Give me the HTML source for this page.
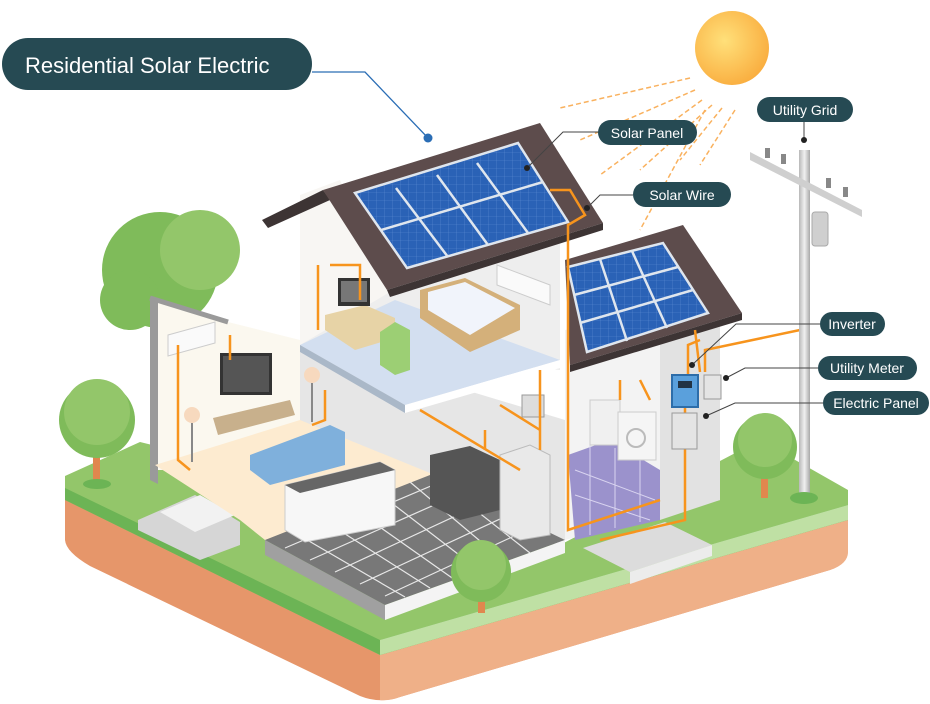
<!DOCTYPE html>
<html><head><meta charset="utf-8"><style>
html,body{margin:0;padding:0;background:#fff;width:930px;height:704px;overflow:hidden}
svg{display:block}
text{font-family:"Liberation Sans",sans-serif}
</style></head><body>
<svg width="930" height="704" viewBox="0 0 930 704" xmlns="http://www.w3.org/2000/svg">
<defs>
<radialGradient id="sun" cx="0.4" cy="0.4" r="0.7"><stop offset="0" stop-color="#ffe07a"/><stop offset="1" stop-color="#f9a93a"/></radialGradient>
<linearGradient id="pole" x1="0" x2="1"><stop offset="0" stop-color="#b8b8b8"/><stop offset="0.5" stop-color="#f0f0f0"/><stop offset="1" stop-color="#a8a8a8"/></linearGradient>
<pattern id="cells" width="8" height="8" patternUnits="userSpaceOnUse"><rect width="8" height="8" fill="#2a62b6"/><path d="M0 0H8M0 0V8" stroke="#5b8bd2" stroke-width="0.6"/></pattern>
</defs>

<!-- Island -->
<path d="M65 495 L65 540 Q66 552 90 566 L360 696 Q380 704 400 697 L830 570 Q848 564 848 550 L848 515 L380 655 Z" fill="#e6966a"/>
<path d="M380 655 L848 515 L848 552 Q848 564 830 570 L400 697 Q390 701 380 700 Z" fill="#efb088"/>
<path d="M65 476 L140 442 L560 545 L760 440 L848 490 L848 520 L380 655 L65 500 Z" fill="#93c66a"/>
<path d="M65 488 L380 640 L848 505 L848 520 L380 655 L65 500 Z" fill="#6cb455"/>
<path d="M380 640 L848 505 L848 520 L380 655 Z" fill="#bfe0a4"/>
<path d="M583 548 L665 522 L712 545 L630 572 Z" fill="#dcdcdc"/>
<path d="M630 572 L712 545 L712 556 L630 584 Z" fill="#ececec"/>

<!-- Big back tree -->
<circle cx="160" cy="270" r="58" fill="#7fbb5a"/><circle cx="200" cy="250" r="40" fill="#93c66a"/>
<circle cx="130" cy="300" r="30" fill="#7fbb5a"/>

<!-- Left small tree -->
<rect x="93" y="440" width="7" height="45" fill="#e0874e"/>
<ellipse cx="97" cy="484" rx="14" ry="5" fill="#6cb455"/>
<circle cx="97" cy="420" r="38" fill="#7fbb5a"/><circle cx="97" cy="412" r="33" fill="#93c66a"/>

<!-- Stairs -->
<path d="M138 520 L195 495 L240 522 L240 545 L200 560 L138 530 Z" fill="#d6d6d6"/>
<path d="M160 512 L200 495 L235 515 L195 532 Z" fill="#f2f2f2"/>

<!-- Ground floor structure -->
<path d="M150 298 L228 322 L300 340 L300 470 L150 470 Z" fill="#fbf8ef"/>
<path d="M150 298 L150 480 L158 484 L158 302 Z" fill="#9a9a9a"/>
<path d="M150 298 L228 322" stroke="#9a9a9a" stroke-width="5"/>
<path d="M300 340 L565 420 L565 540 L300 470 Z" fill="#e6e6e6"/>
<path d="M155 465 L300 420 L545 520 L380 560 L265 540 L240 520 Z" fill="#fdebd0"/>
<path d="M265 540 L430 475 L565 540 L385 605 Z" fill="#787878"/>
<g stroke="#e8e8e8" stroke-width="1.2">
<path d="M290 530 L405 597 M320 518 L430 588 M350 506 L455 580 M380 494 L480 571 M410 482 L505 562 M435 478 L530 553"/>
<path d="M285 548 L445 480 M310 560 L468 490 M335 572 L490 500 M360 584 L515 512 M385 596 L540 524"/>
</g>
<path d="M265 540 L385 605 L385 620 L265 555 Z" fill="#a0a0a0"/>
<path d="M385 605 L565 540 L565 553 L385 620 Z" fill="#f4f4f4"/>

<!-- Right wing -->
<path d="M565 330 L720 290 L720 500 L565 540 Z" fill="#f3f3f3"/>
<path d="M660 320 L720 300 L720 500 L660 520 Z" fill="#e2e2e2"/>
<path d="M568 455 L610 440 L660 470 L660 520 L575 540 Z" fill="#9b92cc"/>
<g stroke="#d9d4f0" stroke-width="1"><path d="M575 470 L655 500 M575 495 L650 520 M590 445 L590 535 M615 448 L615 528 M640 460 L640 522"/></g>
<rect x="590" y="400" width="30" height="45" fill="#f0f0f0" stroke="#ccc"/>
<rect x="618" y="412" width="38" height="48" fill="#f5f5f5" stroke="#ccc"/>
<circle cx="636" cy="438" r="9" fill="none" stroke="#bbb" stroke-width="2"/>

<!-- Upper floor -->
<path d="M300 200 L335 190 L540 130 L560 200 L560 370 L300 345 Z" fill="#eeeeee"/>
<path d="M300 195 L340 180 L390 292 L300 345 Z" fill="#f8f6f3"/>
<path d="M300 345 L395 300 L560 360 L405 405 Z" fill="#d3dff0"/>
<path d="M300 345 L405 405 L405 413 L300 352 Z" fill="#aab8c8"/>
<path d="M405 405 L560 360 L560 368 L405 413 Z" fill="#ffffff"/>
<!-- bed -->
<path d="M420 290 L465 278 L520 305 L520 330 L470 352 L420 318 Z" fill="#d4b07a"/>
<path d="M428 292 L465 282 L515 308 L470 335 L428 310 Z" fill="#f1f4fb"/>
<!-- desk & monitor -->
<path d="M325 315 L365 305 L395 318 L395 338 L355 350 L325 330 Z" fill="#e7d3a6"/>
<rect x="338" y="278" width="32" height="28" fill="#333"/><rect x="341" y="281" width="26" height="21" fill="#777"/>
<path d="M380 332 L395 322 L410 330 L410 370 L395 375 L380 365 Z" fill="#9ccf74"/>
<!-- AC -->
<path d="M497 265 L550 285 L550 305 L497 285 Z" fill="#fafafa" stroke="#ccc"/>
<path d="M168 335 L215 322 L215 343 L168 356 Z" fill="#fafafa" stroke="#ccc"/>

<!-- living room furniture -->
<rect x="220" y="353" width="52" height="42" fill="#333"/><rect x="223" y="356" width="46" height="36" fill="#555"/>
<path d="M213 418 L290 400 L295 415 L218 435 Z" fill="#c8b08c"/>
<path d="M250 455 L330 425 L345 432 L345 465 L270 485 L250 470 Z" fill="#7fb0dc"/>
<path d="M285 485 L380 462 L395 470 L395 525 L305 542 L285 530 Z" fill="#f7f7f7" stroke="#ccc"/>
<path d="M285 485 L380 462 L395 470 L300 493 Z" fill="#666"/>
<circle cx="192" cy="415" r="8" fill="#f7d9be"/><path d="M192 423V462" stroke="#888" stroke-width="2"/>
<circle cx="312" cy="375" r="8" fill="#f7d9be"/><path d="M312 383V422" stroke="#888" stroke-width="2"/>
<!-- kitchen -->
<path d="M430 455 L470 446 L500 460 L500 510 L460 520 L430 505 Z" fill="#555"/>
<path d="M500 455 L530 445 L550 455 L550 535 L520 540 L500 530 Z" fill="#e9e9e9" stroke="#bbb"/>
<rect x="522" y="395" width="22" height="22" fill="#ddd" stroke="#999"/>

<!-- Roofs -->
<path d="M262 220 L323 190 L330 200 L268 228 Z" fill="#3d3434"/>
<path d="M323 190 L540 123 L603 223 L387 290 Z" fill="#5d4c4c"/>
<path d="M387 290 L603 223 L603 230 L390 297 Z" fill="#3d3434"/>
<path d="M355 193 L518 143 L568 222 L407 268 Z" fill="url(#cells)"/>
<g stroke="#dfe6ee" stroke-width="2.5" fill="none">
<path d="M355 193 L518 143 L568 222 L407 268 Z"/>
<path d="M381 230 L543 182"/>
<path d="M396 188 L448 257 M437 175 L488 245 M477 163 L528 233"/>
</g>
<path d="M565 260 L683 225 L742 313 L570 365 Z" fill="#5d4c4c"/>
<path d="M570 365 L742 313 L742 320 L570 372 Z" fill="#3d3434"/>
<path d="M568 267 L663 243 L708 313 L587 352 Z" fill="url(#cells)"/>
<g stroke="#dfe6ee" stroke-width="2.5" fill="none">
<path d="M568 267 L663 243 L708 313 L587 352 Z"/>
<path d="M574 295 L678 267 M580 323 L693 290"/>
<path d="M600 259 L627 341 M632 251 L667 328"/>
</g>

<!-- Orange wires -->
<g stroke="#f7941d" stroke-width="2.5" fill="none">
<path d="M550 190 L570 190 L585 215 L568 225 L568 530 L660 500"/>
<path d="M700 340 L688 345 L688 375 M695 330 L700 372"/>
<path d="M705 372 L705 350 L800 330"/>
<path d="M685 407 L685 520 L600 540"/>
<path d="M318 265 L318 330 M330 265 L360 265 L360 300"/>
<path d="M178 345 L178 460 L190 470 M230 335 L230 360 M325 390 L325 420 L312 425"/>
<path d="M540 370 L540 450 M485 430 L485 450 M500 405 L540 430"/>
<path d="M420 410 L520 470 M620 380 L620 400 M640 380 L650 400"/>
</g>

<!-- Inverter / meter / panel -->
<rect x="672" y="375" width="26" height="32" fill="#5aa0dc" stroke="#2d6da9" stroke-width="2"/>
<rect x="678" y="381" width="14" height="7" fill="#234"/>
<rect x="704" y="375" width="17" height="24" fill="#e4e4e4" stroke="#999"/>
<rect x="672" y="413" width="25" height="36" fill="#e4e4e4" stroke="#999"/>

<!-- Right tree -->
<rect x="761" y="465" width="7" height="33" fill="#e0874e"/>
<circle cx="765" cy="447" r="32" fill="#7fbb5a"/><circle cx="765" cy="440" r="27" fill="#93c66a"/>
<!-- Front tree -->
<rect x="478" y="585" width="7" height="28" fill="#e0874e"/>
<circle cx="481" cy="572" r="30" fill="#7fbb5a"/><circle cx="481" cy="565" r="25" fill="#93c66a"/>

<!-- Pole -->
<rect x="799" y="150" width="11" height="350" fill="url(#pole)"/>
<ellipse cx="804" cy="498" rx="14" ry="6" fill="#6cb455"/>
<path d="M750 152 L862 210 L862 217 L750 160 Z" fill="#cfcfcf"/>
<g fill="#888"><rect x="765" y="148" width="5" height="10"/><rect x="781" y="154" width="5" height="10"/><rect x="826" y="178" width="5" height="10"/><rect x="843" y="187" width="5" height="10"/></g>
<rect x="812" y="212" width="16" height="34" rx="3" fill="#cfcfcf" stroke="#aaa"/>

<!-- Sun & rays -->
<circle cx="732" cy="48" r="37" fill="url(#sun)"/>
<g stroke="#f9b15e" stroke-width="1.5" stroke-dasharray="5 3" fill="none">
<path d="M690 78 L560 108 M695 90 L580 140 M702 100 L600 175 M712 105 L640 170 M722 108 L680 160 M735 110 L700 165 M705 110 L640 230"/>
</g>

<!-- Title -->
<rect x="2" y="38" width="310" height="52" rx="26" fill="#264a53"/>
<text x="25" y="73" fill="#fff" font-size="22">Residential Solar Electric</text>
<path d="M312 72 L365 72 L428 138" stroke="#2a6db5" stroke-width="1.3" fill="none"/>
<circle cx="428" cy="138" r="4.5" fill="#2a6db5"/>

<!-- Labels -->
<g stroke="#444" stroke-width="1" fill="none">
<path d="M598 132 L563 132 L527 168"/>
<path d="M633 195 L600 195 L587 208"/>
<path d="M804 122 L804 140"/>
<path d="M820 324 L736 324 L692 365"/>
<path d="M818 368 L745 368 L726 378"/>
<path d="M823 403 L735 403 L706 416"/>
</g>
<g fill="#222"><circle cx="527" cy="168" r="3"/><circle cx="587" cy="208" r="3"/><circle cx="804" cy="140" r="3"/><circle cx="692" cy="365" r="3"/><circle cx="726" cy="378" r="3"/><circle cx="706" cy="416" r="3"/></g>
<g fill="#264a53">
<rect x="598" y="120" width="99" height="25" rx="12.5"/>
<rect x="633" y="182" width="98" height="25" rx="12.5"/>
<rect x="757" y="97" width="96" height="25" rx="12.5"/>
<rect x="820" y="312" width="65" height="24" rx="12"/>
<rect x="818" y="356" width="99" height="24" rx="12"/>
<rect x="823" y="391" width="106" height="24" rx="12"/>
</g>
<g fill="#fff" font-size="14" text-anchor="middle">
<text x="647" y="138">Solar Panel</text>
<text x="682" y="200">Solar Wire</text>
<text x="805" y="115">Utility Grid</text>
<text x="852" y="329">Inverter</text>
<text x="867" y="373">Utility Meter</text>
<text x="876" y="408">Electric Panel</text>
</g>
</svg>
</body></html>
